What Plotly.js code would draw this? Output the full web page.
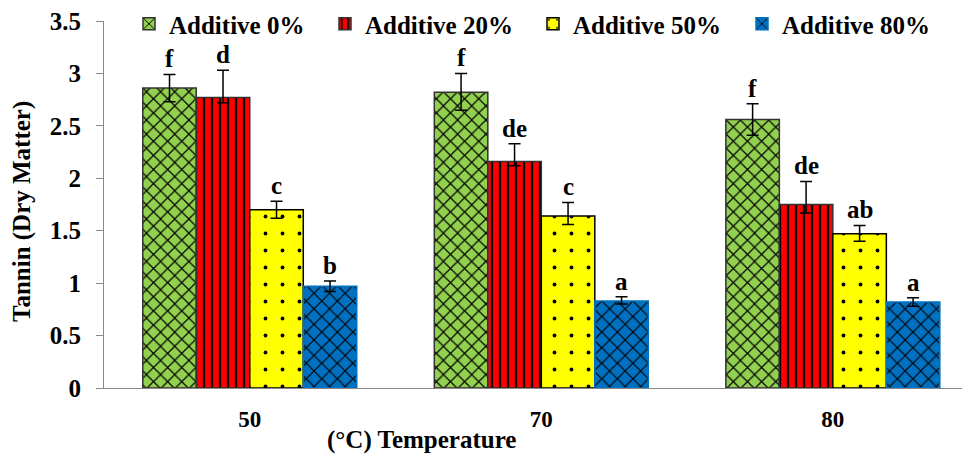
<!DOCTYPE html>
<html>
<head>
<meta charset="utf-8">
<script src="https://cdn.plot.ly/plotly-3.0.1.min.js"></script>
<style>html,body{margin:0;padding:0;background:#fff}#chart{width:966px;height:456px}</style>
</head>
<body>
<div id="chart"></div>
<script>
// ---- data ----
var temperatures = ["50", "70", "80"];
var seriesNames = ["Additive 0%", "Additive 20%", "Additive 50%", "Additive 80%"];
var add0  = [2.86, 2.82, 2.56];
var add20 = [2.77, 2.16, 1.75];
var add50 = [1.70, 1.64, 1.47];
var add80 = [0.97, 0.83, 0.82];
var err0Up   = [0.13, 0.18, 0.15];
var err0Down = [0.13, 0.17, 0.15];
var err20Up   = [0.26, 0.17, 0.22];
var err20Down = [0.05, 0.04, 0.08];
var err50Up   = [0.08, 0.13, 0.08];
var err50Down = [0.08, 0.08, 0.07];
var err80Up   = [0.05, 0.04, 0.04];
var err80Down = [0.05, 0.03, 0.04];
var letters0  = ["f", "f", "f"];
var letters20 = ["d", "de", "de"];
var letters50 = ["c", "c", "ab"];
var letters80 = ["b", "a", "a"];

var values = [add0, add20, add50, add80];
var errUp = [err0Up, err20Up, err50Up, err80Up];
var errDown = [err0Down, err20Down, err50Down, err80Down];
var letters = [letters0, letters20, letters50, letters80];

var fillColors = ["#92D050", "#FF0000", "#FFFF00", "#0070C0"];
var patterns = [
  {shape: "x", size: 10, solidity: 0.22, fgcolor: "#000", bgcolor: "#92D050"},
  {shape: "|", size: 8, solidity: 0.28, fgcolor: "#000", bgcolor: "#FF0000"},
  {shape: ".", size: 17, solidity: 0.04, fgcolor: "#000", bgcolor: "#FFFF00"},
  {shape: "x", size: 11, solidity: 0.2, fgcolor: "#000", bgcolor: "#0070C0"}
];
var lineColors = ["#333", "#333", "#000", "#0070C0"];
var legendWidths = [151, 163, 164, 160];

var FONT = "Liberation Serif, Times New Roman, serif";
var bargap = 0.266;
var nSeries = values.length;
var barW = (1 - bargap) / nSeries;

var traces = [];
var annotations = [];
for (var s = 0; s < nSeries; s++) {
  traces.push({
    type: "bar",
    name: seriesNames[s],
    x: temperatures,
    y: values[s],
    legendwidth: legendWidths[s],
    marker: {color: fillColors[s], pattern: patterns[s], line: {color: lineColors[s], width: 1.5}},
    error_y: {type: "data", symmetric: false, array: errUp[s], arrayminus: errDown[s], color: "#000", thickness: 1.5, width: 6}
  });
  for (var i = 0; i < temperatures.length; i++) {
    annotations.push({
      x: i + (s - (nSeries - 1) / 2) * barW,
      y: values[s][i] + errUp[s][i],
      xref: "x", yref: "y",
      text: letters[s][i],
      showarrow: false,
      yanchor: "bottom",
      yshift: 0,
      font: {family: FONT, size: 25, color: "#000", weight: "bold"}
    });
  }
}

annotations.push({
  text: "(°C) Temperature", xref: "paper", yref: "paper",
  x: (421 - 104) / 858, y: (388 - 440) / 367, yanchor: "middle", xanchor: "center",
  showarrow: false, font: {family: FONT, size: 25, color: "#000", weight: "bold"}
});
annotations.push({
  text: "Tannin (Dry Matter)", xref: "paper", yref: "paper",
  x: (22 - 104) / 858, xanchor: "center", y: (388 - 212) / 367, yanchor: "middle",
  textangle: -90, showarrow: false,
  font: {family: FONT, size: 25, color: "#000", weight: "bold"}
});

var layout = {
  width: 966, height: 456,
  margin: {l: 104, r: 4, t: 21, b: 68, autoexpand: false},
  paper_bgcolor: "#fff", plot_bgcolor: "#fff",
  barmode: "group", bargap: bargap, bargroupgap: 0,
  font: {family: FONT, size: 25, color: "#000", weight: "bold"},
  showlegend: true,
  legend: {
    orientation: "h", x: (129 - 104) / 858, y: 1 - 24 / 456, yref: "container",
    xanchor: "left", yanchor: "middle",
    font: {family: FONT, size: 25, color: "#000", weight: "bold"},
    bgcolor: "rgba(255,255,255,0)", itemwidth: 30, traceorder: "normal"
  },
  xaxis: {
    type: "category", range: [-0.5, 2.443],
    showline: true, linecolor: "#888", linewidth: 1,
    ticks: "outside", ticklen: 10, tickcolor: "rgba(0,0,0,0)",
    showgrid: false, zeroline: false,
    tickfont: {family: FONT, size: 23, color: "#000", weight: "bold"}
  },
  yaxis: {
    range: [0, 3.5], dtick: 0.5, tick0: 0,
    showline: true, linecolor: "#888", linewidth: 1,
    ticks: "outside", ticklen: 7, tickcolor: "#888",
    showgrid: false, zeroline: false,
    ticklabelstandoff: 10,
    tickfont: {family: FONT, size: 25, color: "#000", weight: "bold"}
  },
  annotations: annotations
};

Plotly.newPlot("chart", traces, layout, {displayModeBar: false, staticPlot: true});
</script>
</body>
</html>
